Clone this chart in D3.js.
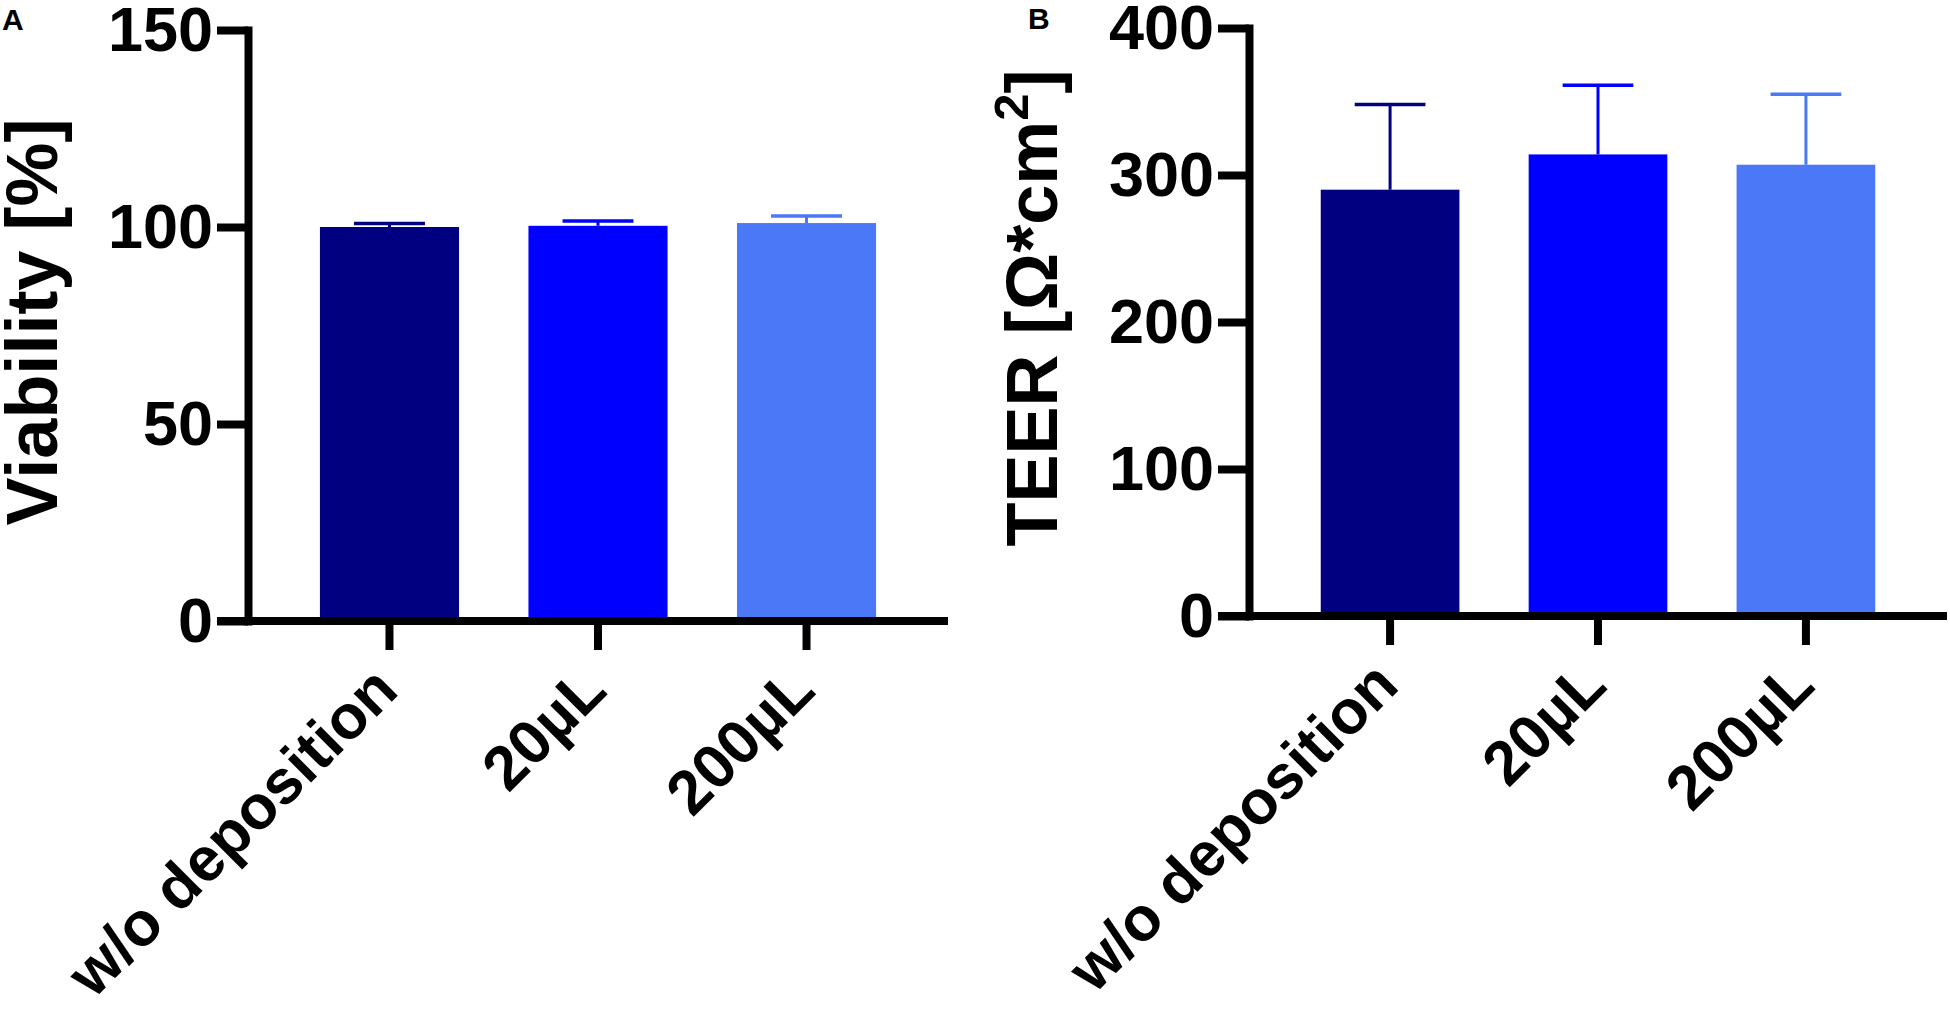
<!DOCTYPE html>
<html>
<head>
<meta charset="utf-8">
<script src="https://cdn.jsdelivr.net/npm/d3@7/dist/d3.min.js"></script>
<style>
  html, body { margin: 0; padding: 0; background: #fff; }
  svg { display: block; font-family: "Liberation Sans", Arial, sans-serif; font-weight: bold; }
</style>
</head>
<body>
<svg id="chart" width="1950" height="1010"></svg>
<script>
// ---- data ----
const categories = ["w/o deposition", "20µL", "200µL"];
const barColors = ["#000080", "#0000ff", "#4a78f7"];

const viabilityMean = [100, 100.3, 101.0];
const viabilityErr = [0.9, 1.2, 1.8];
const viabilityTicks = [0, 50, 100, 150];

const teerMean = [290, 314, 307];
const teerErr = [58, 47, 48];
const teerTicks = [0, 100, 200, 300, 400];

// ---- layout ----
const svg = d3.select("#chart");

const panels = [
  { label: "A", labelX: 2, labelY: 30,
    left: 248, right: 948, top: 30, bottom: 621,
    domainMax: 150, ticks: viabilityTicks, mean: viabilityMean, err: viabilityErr,
    titleX: 57, titleY: 322, title: [{t: "Viability [%]"}] },
  { label: "B", labelX: 1028, labelY: 29,
    left: 1249, right: 1947, top: 28, bottom: 616,
    domainMax: 400, ticks: teerTicks, mean: teerMean, err: teerErr,
    titleX: 1057, titleY: 308, title: [{t: "TEER [Ω*cm"}, {t: "2", sup: true}, {t: "]"}] }
];

panels.forEach(p => {
  const g = svg.append("g");
  const x = d3.scaleBand().domain(categories).range([p.left, p.right])
    .paddingInner(0.333).paddingOuter(0.345);
  const y = d3.scaleLinear().domain([0, p.domainMax]).range([p.bottom, p.top]);
  const ytick = 31;

  // bars
  const rows = categories.map((c, i) => ({ c, m: p.mean[i], e: p.err[i], col: barColors[i] }));
  g.selectAll("rect.bar").data(rows).join("rect")
    .attr("class", "bar")
    .attr("x", d => x(d.c))
    .attr("width", x.bandwidth())
    .attr("y", d => y(d.m))
    .attr("height", d => y(0) - y(d.m))
    .attr("fill", d => d.col);

  // error bars (upper)
  const capW = x.bandwidth() * 0.51;
  g.selectAll("line.err").data(rows).join("line")
    .attr("class", "err")
    .attr("x1", d => x(d.c) + x.bandwidth() / 2)
    .attr("x2", d => x(d.c) + x.bandwidth() / 2)
    .attr("y1", d => y(d.m))
    .attr("y2", d => y(d.m + d.e))
    .attr("stroke", d => d.col).attr("stroke-width", 3);
  g.selectAll("line.cap").data(rows).join("line")
    .attr("class", "cap")
    .attr("x1", d => x(d.c) + x.bandwidth() / 2 - capW / 2)
    .attr("x2", d => x(d.c) + x.bandwidth() / 2 + capW / 2)
    .attr("y1", d => y(d.m + d.e))
    .attr("y2", d => y(d.m + d.e))
    .attr("stroke", d => d.col).attr("stroke-width", 3.5);

  // y axis
  const yAxis = g.append("g")
    .attr("transform", `translate(${p.left},0)`)
    .call(d3.axisLeft(y).tickValues(p.ticks).tickSize(ytick).tickSizeOuter(0).tickPadding(4));
  yAxis.select(".domain").attr("stroke", "#000").attr("stroke-width", 8).attr("stroke-linecap", "square");
  yAxis.selectAll(".tick line").attr("stroke", "#000").attr("stroke-width", 8);
  yAxis.selectAll(".tick text")
    .attr("fill", "#000")
    .style("font-size", "63px").style("font-weight", "bold")
    .style("font-family", "'Liberation Sans', Arial, sans-serif");

  // x axis
  const xAxis = g.append("g")
    .attr("transform", `translate(0,${p.bottom})`)
    .call(d3.axisBottom(x).tickSize(29).tickSizeOuter(0));
  xAxis.select(".domain").remove();
  xAxis.selectAll(".tick line").attr("stroke", "#000").attr("stroke-width", 8);
  xAxis.selectAll(".tick text").remove();
  g.append("line")
    .attr("x1", p.left - ytick).attr("x2", p.right)
    .attr("y1", y(0)).attr("y2", y(0))
    .attr("stroke", "#000").attr("stroke-width", 8);

  // rotated category labels
  g.selectAll("text.cat").data(categories).join("text")
    .attr("class", "cat")
    .attr("transform", d => `translate(${x(d) + x.bandwidth() / 2 + 11},${p.bottom + 72}) rotate(-45)`)
    .attr("text-anchor", "end")
    .style("font-size", "62px")
    .attr("fill", "#000")
    .text(d => d);

  // y title
  const t = g.append("text")
    .attr("transform", `translate(${p.titleX},${p.titleY}) rotate(-90)`)
    .attr("text-anchor", "middle")
    .style("font-size", "72px")
    .attr("fill", "#000");
  let shift = 0;
  p.title.forEach(part => {
    const ts = t.append("tspan").text(part.t);
    if (part.sup) { ts.style("font-size", "49px").attr("dy", -29); shift = 29; }
    else if (shift) { ts.attr("dy", shift); shift = 0; }
  });

  // panel label
  g.append("text")
    .attr("x", p.labelX).attr("y", p.labelY)
    .style("font-size", "30px")
    .attr("fill", "#000")
    .text(p.label);
});
</script>
</body>
</html>
